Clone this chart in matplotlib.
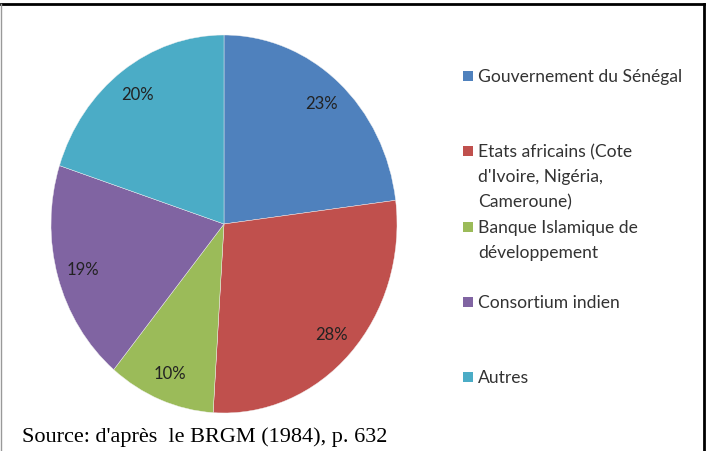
import matplotlib
matplotlib.use('Agg')
import matplotlib.pyplot as plt
from matplotlib.lines import Line2D
from matplotlib.patches import Rectangle

# Data
labels = ['Gouvernement du Sénégal',
          "Etats africains (Cote\nd'Ivoire, Nigéria,\nCameroune)",
          'Banque Islamique de\ndéveloppement',
          'Consortium indien',
          'Autres']
values = [23, 28, 10, 19, 20]
colors = ['#4F81BD', '#C0504D', '#9BBB59', '#8064A2', '#4BACC6']
source = "Source: d'après  le BRGM (1984), p. 632"

# legend layout (pixel rows of the first text line of each entry)
legend_rows = [77, 152, 228, 303, 378]
line_step = 25

W, H = 706, 452
fig = plt.figure(figsize=(W / 100, H / 100), dpi=100)
fig.patch.set_facecolor('white')

def fx(px):
    return px / W

def fy(py):
    return 1 - py / H

# pie (slightly stretched vertically, as in the original image)
ax = fig.add_axes([fx(51), fy(414), fx(397) - fx(51), fy(36) - fy(414)])
wedges, texts, autotexts = ax.pie(
    values, colors=colors, startangle=90, counterclock=False,
    autopct=lambda p: f'{p:.0f}%', pctdistance=0.85,
    wedgeprops=dict(edgecolor='#f2f2f2', linewidth=0.3),
    textprops=dict(family='Lato', fontsize=12, color='#222222'))
ax.set_aspect('auto')
ax.set_xlim(-1, 1)
ax.set_ylim(-1, 1)

# legend drawn by hand to keep Excel's uneven spacing
for lab, col, row in zip(labels, colors, legend_rows):
    fig.add_artist(Rectangle((fx(463), fy(row + 5)), fx(10), fy(row - 5) - fy(row + 5),
                             transform=fig.transFigure, facecolor=col, edgecolor='none'))
    for i, line in enumerate(lab.split('\n')):
        fig.text(fx(478), fy(row + i * line_step), line, family='Lato', fontsize=12.6,
                 color='#333333', va='center', ha='left')

fig.text(fx(22), fy(437), source, family='Liberation Serif', fontsize=16,
         color='black', va='center', ha='left')

# chart frame
fig.add_artist(Line2D([fx(1), fx(704)], [fy(4.5), fy(4.5)], transform=fig.transFigure,
                      color='black', linewidth=2))
fig.add_artist(Line2D([fx(704), fx(704)], [fy(4.5), fy(452)], transform=fig.transFigure,
                      color='black', linewidth=2))
fig.add_artist(Line2D([fx(0.5), fx(0.5)], [fy(4.5), fy(452)], transform=fig.transFigure,
                      color='#999999', linewidth=1))

fig.savefig('out.png', dpi=100)
